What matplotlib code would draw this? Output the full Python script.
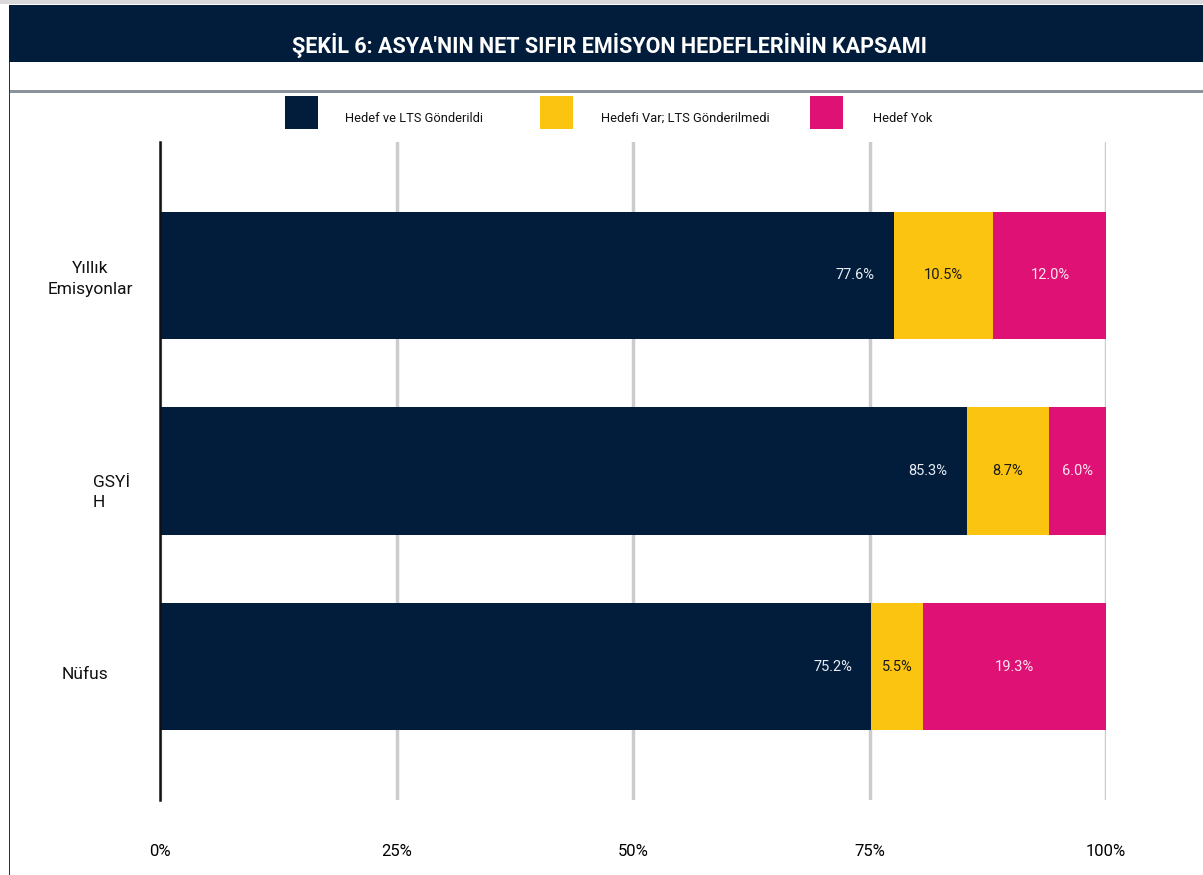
import matplotlib

matplotlib.use("Agg")
import matplotlib.pyplot as plt
from matplotlib.patches import Rectangle
from matplotlib.transforms import blended_transform_factory

W, H = 1203, 875
FONT = ["Liberation Sans Narrow", "Roboto", "DejaVu Sans"]
plt.rcParams["font.family"] = FONT

NAVY = "#021D3B"
YELLOW = "#FBC410"
PINK = "#E01174"

categories = ["Yıllık\nEmisyonlar", "GSYİ\nH", "Nüfus"]
series_names = ["Hedef ve LTS Gönderildi", "Hedefi Var; LTS Gönderilmedi", "Hedef Yok"]
sent = [77.6, 85.3, 75.2]
no_lts = [10.5, 8.7, 5.5]
no_target = [12.0, 6.0, 19.3]
x_ticks = [0, 25, 50, 75, 100]
x_tick_labels = ["0%", "25%", "50%", "75%", "100%"]

colors = [NAVY, YELLOW, PINK]
label_colors = ["#e8ecf2", "#1a1a1a", "#fbe6f0"]


def px(x, y):
    # pixel coords (top-left origin) -> figure fraction
    return x / W, 1 - y / H


fig = plt.figure(figsize=(W / 100, H / 100), dpi=100)

# frame pieces around the chart
fig.add_artist(Rectangle(px(0, 4), 1, 4 / H, transform=fig.transFigure, color="#d9d9d9", lw=0))
fig.add_artist(Rectangle(px(9, 62), 1, 57 / H, transform=fig.transFigure, color=NAVY, lw=0))
fig.add_artist(Rectangle(px(9, 93), 1, 2.5 / H, transform=fig.transFigure, color="#8a939c", lw=0))
fig.add_artist(Rectangle(px(9, 875), 1.2 / W, (875 - 62) / H, transform=fig.transFigure, color="#333333", lw=0))
fig.text(*px(609, 45), "ŞEKİL 6: ASYA'NIN NET SIFIR EMİSYON HEDEFLERİNİN KAPSAMI",
         color="white", fontsize=15.5, fontweight="bold", ha="center", va="center")

# legend drawn by hand to match the spacing
legend_x = [285, 540, 810]
legend_text_x = [345, 601, 873]
for sx, tx, name, c in zip(legend_x, legend_text_x, series_names, colors):
    fig.add_artist(Rectangle(px(sx, 129), 33 / W, 33 / H, transform=fig.transFigure, color=c, lw=0))
    fig.text(*px(tx, 118), name, fontsize=9.3, ha="left", va="center", color="#111111")

l, t = px(160, 142)
r, b = px(1106, 800)
ax = fig.add_axes([l, b, r - l, t - b])

ypos = list(range(len(categories)))
lefts = [0.0] * len(categories)
for i, vals in enumerate([sent, no_lts, no_target]):
    bars = ax.barh(ypos, vals, left=lefts, height=0.65, color=colors[i], zorder=2)
    for j, (rect, v) in enumerate(zip(bars, vals)):
        yc = rect.get_y() + rect.get_height() / 2
        if i == 0:
            ax.annotate(f"{v:.1f}%", (rect.get_x() + rect.get_width(), yc), xytext=(-14, 0),
                        textcoords="offset points", ha="right", va="center",
                        color=label_colors[i], fontsize=10.5)
        else:
            ax.text(rect.get_x() + rect.get_width() / 2, yc, f"{v:.1f}%", ha="center",
                    va="center", color=label_colors[i], fontsize=10.5)
    lefts = [a + v for a, v in zip(lefts, vals)]

ax.set_xlim(0, 100)
ax.set_ylim(2.68, -0.68)
ax.set_xticks(x_ticks)
ax.set_xticklabels(x_tick_labels, fontsize=12)
ax.tick_params(axis="x", length=0, pad=32)
ax.set_yticks([])
ax.grid(axis="x", color="#cccccc", lw=2.5, zorder=0)
ax.set_axisbelow(True)
for side in ["top", "right", "bottom"]:
    ax.spines[side].set_visible(False)
ax.spines["left"].set_linewidth(1.8)
ax.spines["left"].set_color("#111111")
ax.spines["left"].set_zorder(3)

# category labels sit off the axis at uneven spots, like the source
trans = blended_transform_factory(fig.transFigure, ax.transData)
cat_x = [90, 93, 62]
cat_dy = [0.02, 0.11, 0.04]
cat_ha = ["center", "left", "left"]
for j, name in enumerate(categories):
    ax.text(cat_x[j] / W, j + cat_dy[j], name, transform=trans, ha=cat_ha[j], va="center",
            fontsize=12.5, linespacing=1.45, color="#111111")

fig.savefig("out.png", dpi=100)
